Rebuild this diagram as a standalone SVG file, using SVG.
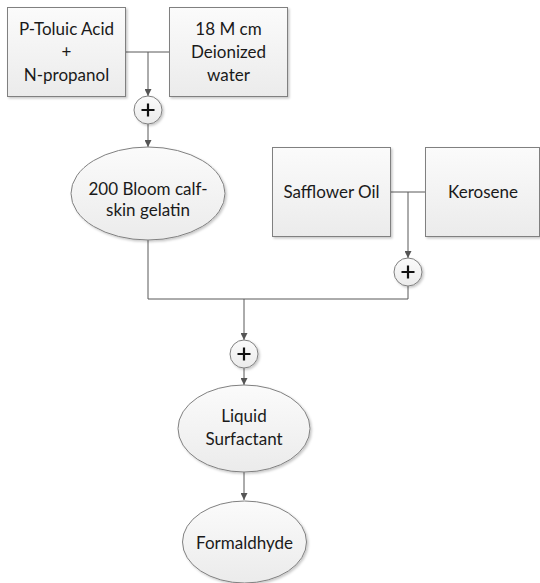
<svg xmlns="http://www.w3.org/2000/svg" width="540" height="583" viewBox="0 0 540 583">
<defs>
<linearGradient id="g" x1="0" y1="0" x2="0" y2="1">
<stop offset="0" stop-color="#fbfbfb"/>
<stop offset="1" stop-color="#ebebeb"/>
</linearGradient>
<filter id="sh" x="-10%" y="-10%" width="125%" height="125%">
<feDropShadow dx="1.5" dy="1.5" stdDeviation="1.2" flood-color="#000" flood-opacity="0.22"/>
</filter>
<marker id="arr" viewBox="0 0 10 10" refX="10" refY="5" markerWidth="7" markerHeight="7" markerUnits="userSpaceOnUse" orient="auto">
<path d="M0,0 L10,5 L0,10 z" fill="#555"/>
</marker>
</defs>
<style>
.n{fill:url(#g);stroke:#808080;stroke-width:1;filter:url(#sh)}
.t{font-family:Lato,"Liberation Sans",sans-serif;font-size:17px;fill:#1a1a1a;text-anchor:middle}
.c{fill:none;stroke:#595959;stroke-width:1}
.p{stroke:#111;stroke-width:2.2;fill:none}
</style>
<g id="connectors">
<path class="c" d="M125,52 H169"/>
<path class="c" d="M148,52 V96" marker-end="url(#arr)"/>
<path class="c" d="M148,124 V147" marker-end="url(#arr)"/>
<path class="c" d="M148,240 V299 H408 V286"/>
<path class="c" d="M391,192 H426"/>
<path class="c" d="M408,192 V258" marker-end="url(#arr)"/>
<path class="c" d="M244,299 V340" marker-end="url(#arr)"/>
<path class="c" d="M244,368 V385" marker-end="url(#arr)"/>
<path class="c" d="M244,472 V500" marker-end="url(#arr)"/>
</g>
<g id="ptoluic">
<rect class="n" x="7.5" y="7.5" width="118" height="89"/>
<text class="t" x="66.5" y="35">P-Toluic Acid</text>
<text class="t" x="66.5" y="58">+</text>
<text class="t" x="66.5" y="81">N-propanol</text>
</g>
<g id="water">
<rect class="n" x="169.5" y="7.5" width="118" height="89"/>
<text class="t" x="228.5" y="35">18 M cm</text>
<text class="t" x="228.5" y="58">Deionized</text>
<text class="t" x="228.5" y="81">water</text>
</g>
<g id="sum1">
<circle class="n" cx="148" cy="110" r="14"/>
<path class="p" d="M141.5,110 H154.5 M148,103.5 V116.5"/>
</g>
<g id="gelatin">
<ellipse class="n" cx="148" cy="193.5" rx="77" ry="46.5"/>
<text class="t" x="148" y="195">200 Bloom calf-</text>
<text class="t" x="148" y="216">skin gelatin</text>
</g>
<g id="safflower">
<rect class="n" x="272.5" y="147.5" width="118" height="89"/>
<text class="t" x="331.5" y="198">Safflower Oil</text>
</g>
<g id="kerosene">
<rect class="n" x="425.5" y="147.5" width="114" height="89"/>
<text class="t" x="483" y="198">Kerosene</text>
</g>
<g id="sum2">
<circle class="n" cx="408" cy="272" r="14"/>
<path class="p" d="M401.5,272 H414.5 M408,265.5 V278.5"/>
</g>
<g id="sum3">
<circle class="n" cx="244" cy="354" r="14"/>
<path class="p" d="M237.5,354 H250.5 M244,347.5 V360.5"/>
</g>
<g id="surfactant">
<ellipse class="n" cx="244" cy="428.5" rx="66" ry="43.5"/>
<text class="t" x="244" y="422">Liquid</text>
<text class="t" x="244" y="445">Surfactant</text>
</g>
<g id="formaldhyde">
<ellipse class="n" cx="244.5" cy="542" rx="62" ry="41"/>
<text class="t" x="244.5" y="549">Formaldhyde</text>
</g>
</svg>
